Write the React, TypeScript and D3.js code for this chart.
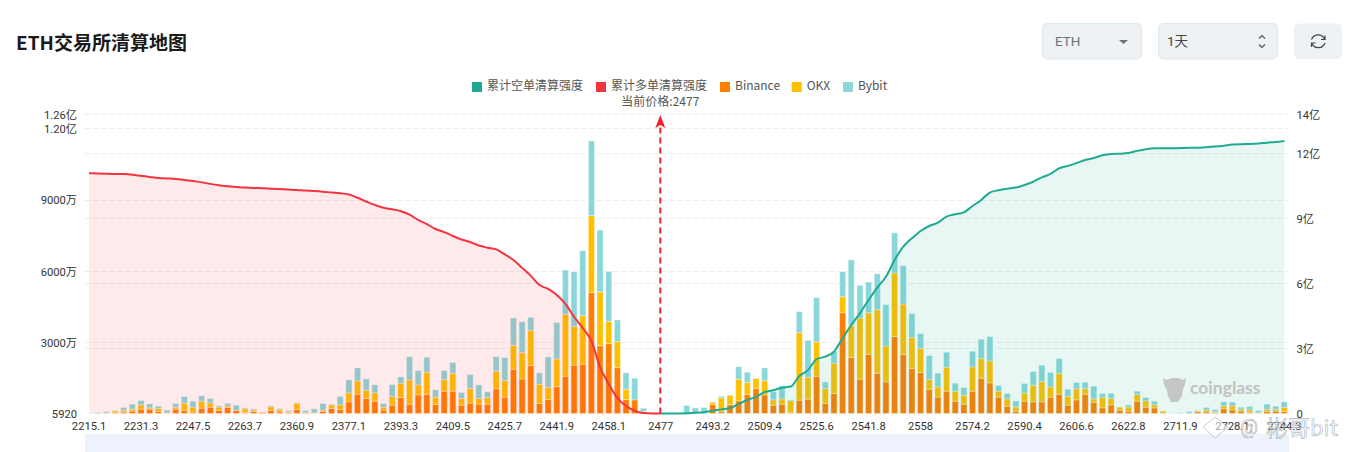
import React, { useRef, useEffect } from 'react';
import * as d3 from 'd3';

// every 6th category is labelled on the x axis
const xTickLabels = ['2215.1', '2231.3', '2247.5', '2263.7', '2360.9', '2377.1', '2393.3', '2409.5', '2425.7', '2441.9', '2458.1', '2477', '2493.2', '2509.4', '2525.6', '2541.8', '2558', '2574.2', '2590.4', '2606.6', '2622.8', '2711.9', '2728.1', '2744.3'];
const currentPrice = '2477';

// left axis, unit: 万
const leftTicks = [0, 3000, 6000, 9000, 12000, 12600];
const leftTickLabels = ['5920', '3000万', '6000万', '9000万', '1.20亿', '1.26亿'];
// right axis, unit: 亿
const rightTicks = [0, 3, 6, 9, 12, 13.8];
const rightTickLabels = ['0', '3亿', '6亿', '9亿', '12亿', '14亿'];

// liquidation per price level, unit: 万
const binance = [
    0, 0, 14, 42, 56, 98, 182, 182, 84, 14,
    182, 126, 56, 224, 266, 126, 252, 126, 42, 84,
    42, 126, 70, 42, 168, 28, 14, 84, 210, 168,
    490, 812, 630, 518, 140, 350, 672, 392, 784, 812,
    378, 938, 938, 350, 434, 392, 392, 1036, 686, 1862,
    1456, 2016, 420, 588, 1134, 1568, 2030, 2072, 5096, 2856,
    2940, 1932, 588, 574, 42, 0, 0, 0, 0, 0,
    14, 0, 378, 70, 378, 532, 798, 1064, 784, 350,
    392, 42, 560, 602, 1568, 420, 840, 4242, 2352, 1442,
    2492, 1694, 1330, 3234, 2478, 1890, 1722, 1022, 686, 938,
    518, 392, 938, 1484, 1288, 686, 308, 98, 518, 490,
    490, 686, 812, 350, 574, 812, 476, 238, 364, 140,
    98, 518, 266, 238, 14, 0, 0, 0, 70, 70,
    42, 196, 154, 98, 42, 14, 84, 98, 84,
];
const okx = [
    0, 0, 14, 70, 70, 84, 182, 56, 126, 14,
    84, 308, 210, 294, 182, 140, 70, 0, 154, 70,
    0, 154, 98, 28, 266, 14, 14, 56, 154, 196,
    378, 560, 350, 350, 126, 364, 602, 1022, 420, 924,
    308, 490, 756, 280, 616, 238, 280, 742, 700, 1008,
    1106, 1470, 812, 518, 1162, 2604, 1624, 2044, 3234, 2268,
    938, 1092, 434, 0, 42, 0, 0, 0, 0, 0,
    0, 0, 98, 588, 392, 910, 504, 406, 602, 224,
    224, 490, 2842, 924, 1442, 630, 1274, 672, 1358, 2576,
    1750, 2674, 1512, 2674, 2128, 1302, 1022, 406, 434, 1008,
    420, 378, 1022, 826, 924, 252, 308, 182, 336, 700,
    854, 434, 882, 378, 462, 238, 140, 448, 266, 126,
    182, 280, 266, 126, 84, 0, 0, 14, 42, 84,
    28, 126, 168, 84, 112, 28, 98, 84, 182,
];
const bybit = [
    14, 42, 56, 7, 126, 210, 182, 168, 98, 112,
    154, 280, 252, 224, 182, 56, 98, 224, 42, 42,
    0, 42, 42, 56, 14, 84, 168, 280, 28, 350,
    546, 546, 476, 336, 154, 504, 266, 980, 602, 630,
    308, 378, 448, 252, 588, 574, 238, 616, 966, 1148,
    1302, 560, 476, 1274, 1526, 1862, 2310, 2730, 3136, 2590,
    2100, 910, 686, 910, 140, 14, 0, 0, 14, 336,
    224, 252, 14, 70, 14, 532, 434, 0, 532, 350,
    560, 42, 882, 1554, 1862, 280, 490, 1050, 2758, 1372,
    1288, 1512, 1736, 1694, 1610, 1008, 616, 1008, 574, 630,
    336, 322, 658, 812, 1022, 238, 224, 252, 406, 574,
    686, 602, 616, 294, 266, 266, 532, 154, 210, 0,
    84, 140, 140, 154, 0, 14, 28, 70, 14, 98,
    98, 168, 154, 84, 140, 84, 210, 126, 224,
];

// cumulative long liquidation, unit: 亿, from the first level up to the current price
const cumulativeLong = [
    11.07, 11.06, 11.05, 11.04, 11.03, 11.0, 10.95, 10.9, 10.85, 10.83,
    10.81, 10.76, 10.71, 10.65, 10.58, 10.52, 10.47, 10.44, 10.41, 10.39,
    10.38, 10.36, 10.34, 10.32, 10.3, 10.27, 10.25, 10.22, 10.18, 10.15,
    10.09, 9.94, 9.77, 9.61, 9.48, 9.41, 9.32, 9.16, 8.92, 8.73,
    8.5, 8.36, 8.18, 8.02, 7.9, 7.74, 7.64, 7.56, 7.33, 7.07,
    6.71, 6.34, 5.92, 5.74, 5.46, 5.05, 4.45, 3.94, 3.34, 2.14,
    1.36, 0.71, 0.35, 0.12, 0.02, 0, 0,
];
// cumulative short liquidation, unit: 亿, from the current price up to the last level
const cumulativeShort = [
    0, 0, 0, 0.01, 0.04, 0.06, 0.13, 0.19, 0.25, 0.44,
    0.62, 0.77, 0.99, 1.07, 1.19, 1.24, 1.73, 2.0, 2.51, 2.62,
    2.85, 3.47, 4.08, 4.62, 5.23, 5.8, 6.3, 7.07, 7.69, 8.07,
    8.41, 8.64, 8.79, 9.07, 9.18, 9.27, 9.56, 9.84, 10.18, 10.29,
    10.36, 10.41, 10.53, 10.68, 10.88, 11.04, 11.3, 11.41, 11.54, 11.68,
    11.77, 11.9, 11.96, 11.97, 12.0, 12.1, 12.18, 12.22, 12.22, 12.22,
    12.23, 12.24, 12.25, 12.27, 12.3, 12.34, 12.39, 12.41, 12.42, 12.44,
    12.48, 12.51, 12.56,
];

const COLORS = { short: '#21AA93', long: '#F5333F', binance: '#FF7F00', okx: '#FFC000', bybit: '#8AD7DA' };
const FONT = 'Roboto, "Noto Sans CJK SC", sans-serif';
const CJK_FONT = '"Noto Sans CJK SC", Roboto, sans-serif';

const legendItems = [
    { label: '累计空单清算强度', color: COLORS.short, x: 472 },
    { label: '累计多单清算强度', color: COLORS.long, x: 596 },
    { label: 'Binance', color: COLORS.binance, x: 720 },
    { label: 'OKX', color: COLORS.okx, x: 791.7 },
    { label: 'Bybit', color: COLORS.bybit, x: 843 },
];

const App: React.FC = () => {
    const svgRef = useRef<SVGSVGElement>(null);

    useEffect(() => {
        const svg = d3.select(svgRef.current);
        svg.selectAll('*').remove();

        const margin = { top: 114, right: 59.3, bottom: 38.5, left: 84.7 };
        const width = 1348;
        const height = 452;
        const bottom = height - margin.bottom;

        const indices = d3.range(binance.length);
        const x = d3.scaleBand<number>()
            .domain(indices)
            .range([margin.left, width - margin.right])
            .paddingInner(0.3)
            .paddingOuter(0.15);
        const cx = (i: number) => (x(i) as number) + x.bandwidth() / 2;
        const yLeft = d3.scaleLinear().domain([0, 12600]).range([bottom, margin.top]);
        const yRight = d3.scaleLinear().domain([0, 13.8]).range([bottom, margin.top]);

        // slider strip under the axis
        svg.append('rect').attr('x', 85).attr('y', 434).attr('width', 1204).attr('height', 18).attr('fill', '#EEF2FD');

        // grid lines
        const drawGrid = (values: number[], scale: d3.ScaleLinear<number, number>) => {
            svg.append('g').selectAll('line').data(values.filter(v => v > 0)).join('line')
                .attr('x1', margin.left).attr('x2', width - margin.right)
                .attr('y1', d => Math.round(scale(d)) + 0.5).attr('y2', d => Math.round(scale(d)) + 0.5)
                .attr('stroke', '#EDEDED').attr('stroke-dasharray', '5,3');
        };
        drawGrid(leftTicks, yLeft);
        drawGrid(rightTicks, yRight);

        // stacked bars
        const table = indices.map(i => ({ i, binance: binance[i], okx: okx[i], bybit: bybit[i] }));
        const stacked = d3.stack<any>().keys(['binance', 'okx', 'bybit'])(table);
        svg.append('g').selectAll('g').data(stacked).join('g')
            .attr('fill', d => (COLORS as any)[d.key])
            .selectAll('rect').data(d => d.filter(p => p[1] > p[0])).join('rect')
            .attr('x', d => x(d.data.i) as number)
            .attr('width', x.bandwidth())
            .attr('y', d => yLeft(d[1]))
            .attr('height', d => yLeft(d[0]) - yLeft(d[1]))
            .attr('stroke', 'rgba(255,255,255,0.35)')
            .attr('stroke-width', 1);

        // cumulative areas and lines sit on top of the bars
        const currentIndex = xTickLabels.indexOf(currentPrice) * 6;
        const drawCumulative = (values: number[], offset: number, color: string) => {
            const area = d3.area<number>()
                .x((_, i) => cx(i + offset))
                .y0(bottom)
                .y1(d => yRight(d))
                .curve(d3.curveMonotoneX);
            const line = d3.line<number>()
                .x((_, i) => cx(i + offset))
                .y(d => yRight(d))
                .curve(d3.curveMonotoneX);
            svg.append('path').datum(values).attr('d', area).attr('fill', color).attr('fill-opacity', 0.1);
            svg.append('path').datum(values).attr('d', line).attr('fill', 'none').attr('stroke', color).attr('stroke-width', 2);
        };
        drawCumulative(cumulativeLong, 0, COLORS.long);
        drawCumulative(cumulativeShort, currentIndex, COLORS.short);

        // current price marker
        const px = cx(currentIndex) - 0.4;
        svg.append('line')
            .attr('x1', px).attr('x2', px).attr('y1', bottom).attr('y2', 124)
            .attr('stroke', '#EE2233').attr('stroke-width', 2).attr('stroke-dasharray', '6,4');
        svg.append('path')
            .attr('d', `M${px},115 L${px + 5},128 L${px},125 L${px - 5},128 Z`)
            .attr('fill', '#EE2233');
        svg.append('text')
            .attr('x', px).attr('y', 102.5).attr('text-anchor', 'middle').attr('dominant-baseline', 'middle')
            .attr('font-family', CJK_FONT).attr('font-size', 12).attr('fill', '#555')
            .text(`当前价格:${currentPrice}`);

        // axes
        const styleAxis = (g: d3.Selection<SVGGElement, unknown, null, undefined>) => {
            g.select('.domain').remove();
            g.selectAll('.tick line').remove();
            g.selectAll('text').attr('font-family', FONT).attr('font-size', 11.2).attr('fill', '#333');
        };
        svg.append('g')
            .attr('transform', `translate(0,${bottom + 1})`)
            .call(d3.axisBottom(x)
                .tickValues(xTickLabels.map((_, k) => k * 6))
                .tickFormat(d => xTickLabels[(d as number) / 6])
                .tickSize(0)
                .tickPadding(8))
            .call(styleAxis);
        svg.append('g')
            .attr('transform', 'translate(77,0.6)')
            .call(d3.axisLeft(yLeft)
                .tickValues(leftTicks)
                .tickFormat((_, k) => leftTickLabels[k])
                .tickSize(0)
                .tickPadding(0))
            .call(styleAxis);
        svg.append('g')
            .attr('transform', 'translate(1296.5,0.6)')
            .call(d3.axisRight(yRight)
                .tickValues(rightTicks)
                .tickFormat((_, k) => rightTickLabels[k])
                .tickSize(0)
                .tickPadding(0))
            .call(styleAxis);

        // legend
        const legend = svg.append('g').selectAll('g').data(legendItems).join('g')
            .attr('transform', d => `translate(${d.x},82)`);
        legend.append('rect').attr('width', 10).attr('height', 10).attr('fill', d => d.color);
        legend.append('text')
            .attr('x', 15).attr('y', 5).attr('dominant-baseline', 'middle')
            .attr('font-family', CJK_FONT).attr('font-size', 12).attr('fill', '#555')
            .text(d => d.label);

        // title
        svg.append('text')
            .attr('x', 16).attr('y', 44.5).attr('dominant-baseline', 'middle')
            .attr('font-family', CJK_FONT).attr('font-size', 19).attr('font-weight', 700).attr('fill', '#1A1A1A')
            .text('ETH交易所清算地图');

        // toolbar controls
        const box = (bx: number, bw: number, stroke: string) => svg.append('rect')
            .attr('x', bx).attr('y', 23.5).attr('width', bw).attr('height', 35.5).attr('rx', 5)
            .attr('fill', '#EEF2F4').attr('stroke', stroke);
        box(1042.5, 99, '#DCE9EC');
        svg.append('text').attr('x', 1055).attr('y', 42.5).attr('dominant-baseline', 'middle')
            .attr('font-family', FONT).attr('font-size', 13.5).attr('fill', '#66757B').text('ETH');
        svg.append('path').attr('d', 'M1119,40 L1128,40 L1123.5,44 Z').attr('fill', '#66757B');
        box(1158.5, 119, '#E2E7EA');
        svg.append('text').attr('x', 1167).attr('y', 42.5).attr('dominant-baseline', 'middle')
            .attr('font-family', FONT).attr('font-size', 13.5).attr('fill', '#444').text('1天');
        svg.append('path')
            .attr('d', 'M1259,38.5 L1262,35.5 L1265,38.5 M1259,44.5 L1262,47.5 L1265,44.5')
            .attr('fill', 'none').attr('stroke', '#555').attr('stroke-width', 1.2);
        box(1294, 48, 'none');
        svg.append('path')
            .attr('d', 'M1311.5,39.5 A7,7 0 0 1 1324.5,39 M1325,43 A7,7 0 0 1 1312,43.5 M1325,35.5 L1325,39.5 L1321,39.5 M1311.5,47 L1311.5,43 L1315.5,43')
            .attr('fill', 'none').attr('stroke', '#444').attr('stroke-width', 1.2);

        // coinglass mark
        svg.append('path')
            .attr('d', 'M1163,378 L1167,380 L1172,378 L1178,378 L1183,380 L1186,378 L1185,385 L1183,389 L1182,396 L1178,402 L1171,402 L1168,396 L1167,390 L1164,385 Z')
            .attr('fill', '#C6C6C6');
        svg.append('text').attr('x', 1190).attr('y', 389.5).attr('dominant-baseline', 'middle')
            .attr('font-family', 'Lato, "Noto Sans", sans-serif').attr('font-size', 17.5).attr('font-weight', 700).attr('fill', '#C2C2C2')
            .text('coinglass');

        // repost watermark
        const mark = svg.append('g').attr('fill', 'rgba(255,255,255,0.55)').attr('stroke', 'rgba(110,110,110,0.5)').attr('stroke-width', 0.7);
        mark.append('path').attr('d', 'M1203,427 L1215,417 L1228,427 L1215,438 Z');
        mark.append('text').attr('x', 1240).attr('y', 434).attr('font-family', FONT).attr('font-size', 20).text('@');
        mark.append('text').attr('x', 1266).attr('y', 436).attr('font-family', CJK_FONT).attr('font-size', 22).text('彬哥bit');
    }, []);

    return <svg ref={svgRef} width={1348} height={452} style={{ position: 'absolute', left: 0, top: 0 }} />;
};

export default App;
